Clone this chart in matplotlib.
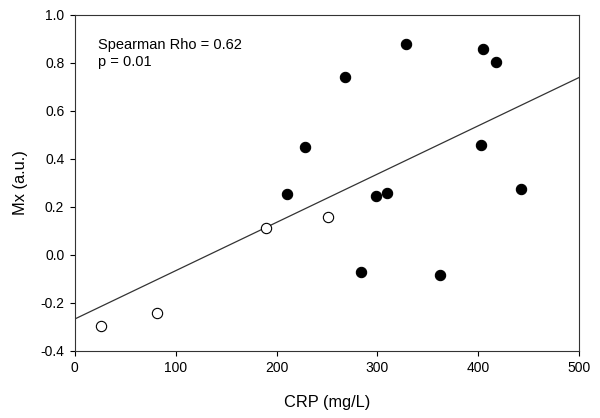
import matplotlib
matplotlib.use("Agg")
import matplotlib.pyplot as plt
import numpy as np

plt.rcParams['font.family'] = ['Liberation Sans', 'DejaVu Sans']

# Open circles
crp_open = [26, 82, 190, 251]
mx_open = [-0.296, -0.241, 0.111, 0.158]
# Filled circles
crp_filled = [210, 228, 268, 284, 299, 309, 328, 362, 403, 405, 417, 442]
mx_filled = [0.254, 0.449, 0.741, -0.071, 0.246, 0.259, 0.877, -0.084, 0.456, 0.857, 0.802, 0.274]
# Regression line
line_intercept = -0.267
line_slope = 0.002012

xticks = [0, 100, 200, 300, 400, 500]
yticks = [-0.4, -0.2, 0.0, 0.2, 0.4, 0.6, 0.8, 1.0]

fig = plt.figure(figsize=(6.0, 4.18), dpi=100)
ax = fig.add_axes([74.7/600, 1 - 351/418, (579.3-74.7)/600, (351-14.7)/418])

xl = np.array([0, 500])
ax.plot(xl, line_intercept + line_slope * xl, color='#333333', lw=0.9, zorder=1)
ax.scatter(crp_open, mx_open, s=55, facecolor='white', edgecolor='black', linewidth=0.8, zorder=3)
ax.scatter(crp_filled, mx_filled, s=55, facecolor='black', edgecolor='black', linewidth=0.8, zorder=3)

ax.set_xlim(0, 500)
ax.set_ylim(-0.4, 1.0)
ax.set_xticks(xticks)
ax.set_yticks(yticks)
ax.set_yticklabels([f"{v:.1f}" for v in yticks])
ax.tick_params(direction='out', length=3.5, width=0.8, labelsize=10, pad=4,
               top=False, right=False)
for s in ax.spines.values():
    s.set_linewidth(0.8)
    s.set_color('#333333')

ax.set_xlabel('CRP (mg/L)', fontsize=11.8, labelpad=14)
ax.set_ylabel('Mx (a.u.)', fontsize=11.8, labelpad=9)

ax.text(22.8, 0.905, 'Spearman Rho = 0.62\np = 0.01', fontsize=10.5, va='top', ha='left', linespacing=1.3)

fig.savefig('out.png', dpi=100)
